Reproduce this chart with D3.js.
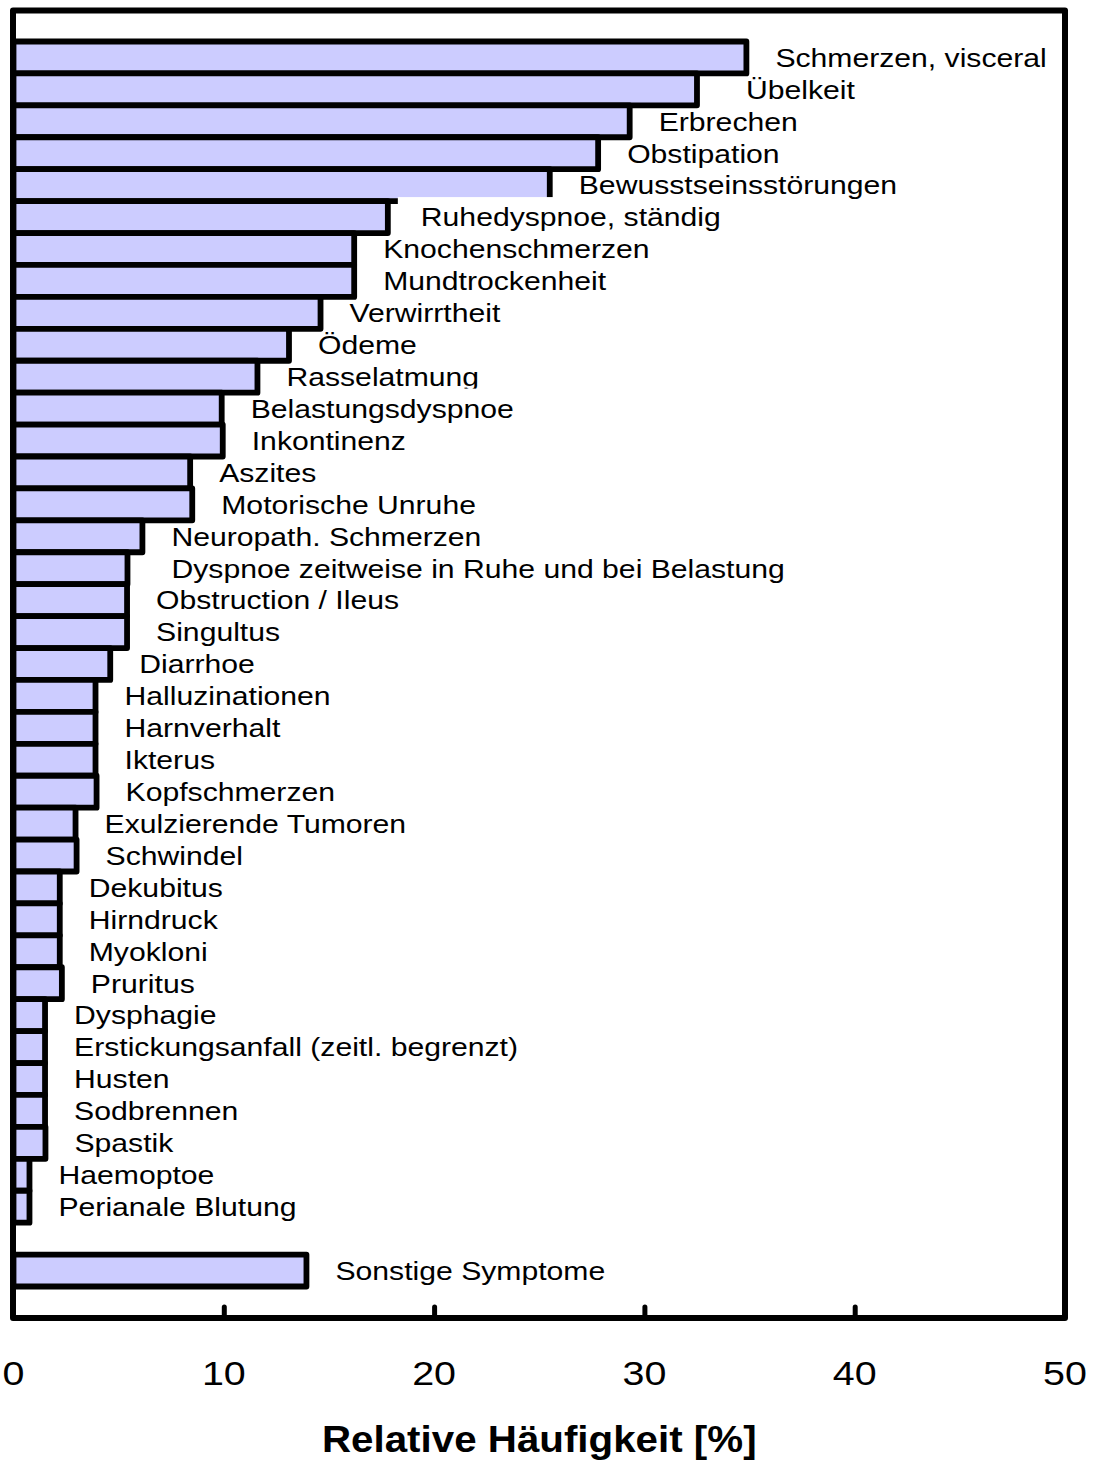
<!DOCTYPE html>
<html>
<head>
<meta charset="utf-8">
<script src="https://cdn.jsdelivr.net/npm/d3@7"></script>
<style>
  html, body { margin: 0; padding: 0; background: #fff; }
  svg { display: block; }
  text { font-family: "Liberation Sans", Arial, sans-serif; fill: #000; }
</style>
</head>
<body>
<svg id="chart" width="1094" height="1460"></svg>
<script>
// ---- data ----
const symptoms = [
  "Schmerzen, visceral", "Übelkeit", "Erbrechen", "Obstipation", "Bewusstseinsstörungen",
  "Ruhedyspnoe, ständig", "Knochenschmerzen", "Mundtrockenheit", "Verwirrtheit", "Ödeme",
  "Rasselatmung", "Belastungsdyspnoe", "Inkontinenz", "Aszites", "Motorische Unruhe",
  "Neuropath. Schmerzen", "Dyspnoe zeitweise in Ruhe und bei Belastung", "Obstruction / Ileus",
  "Singultus", "Diarrhoe", "Halluzinationen", "Harnverhalt", "Ikterus", "Kopfschmerzen",
  "Exulzierende Tumoren", "Schwindel", "Dekubitus", "Hirndruck", "Myokloni", "Pruritus",
  "Dysphagie", "Erstickungsanfall (zeitl. begrenzt)", "Husten", "Sodbrennen", "Spastik",
  "Haemoptoe", "Perianale Blutung"
];
const frequency = [
  34.85, 32.5, 29.3, 27.8, 25.5,
  17.8, 16.2, 16.2, 14.6, 13.1,
  11.6, 9.9, 9.95, 8.4, 8.5,
  6.13, 5.42, 5.4, 5.4, 4.6,
  3.9, 3.9, 3.9, 3.95,
  2.95, 3.0, 2.2, 2.2, 2.2, 2.3,
  1.5, 1.5, 1.5, 1.5, 1.52,
  0.76, 0.76
];
const otherLabel = "Sonstige Symptome";
const otherValue = 13.93;
const xTicks = [0, 10, 20, 30, 40, 50];
const xTitle = "Relative Häufigkeit [%]";

// ---- layout tweaks (not data) ----
const labelShift = { "Übelkeit": 20, "Dyspnoe zeitweise in Ruhe und bei Belastung": 15, "Ruhedyspnoe, ständig": 4 };
const boxExtend = { "Ruhedyspnoe, ständig": 23 };
const boxRaise = { "Ruhedyspnoe, ständig": 7, "Belastungsdyspnoe": 7 };

const rows = symptoms.map((s, i) => ({ key: s, label: s, value: frequency[i] }));
rows.push({ key: "__gap__", label: null, value: null });
rows.push({ key: otherLabel, label: otherLabel, value: otherValue });

const svg = d3.select("#chart");
const plotL = 13.5, plotR = 1065, plotT = 10.5, plotB = 1318;

const x = d3.scaleLinear().domain([0, 50]).range([plotL, plotR]);
const y = d3.scaleBand().domain(rows.map(r => r.key)).range([41.5, 1286.5]).padding(0);

const SX = 1.16;      // horizontal stretch of the reference's lettering
const LABEL_FS = 26;

// bars
const barRows = rows.filter(r => r.value !== null);
svg.append("g").selectAll("rect").data(barRows).join("rect")
  .attr("x", x(0))
  .attr("y", d => y(d.key))
  .attr("width", d => x(d.value) - x(0))
  .attr("height", y.bandwidth())
  .attr("fill", "#ccccff")
  .attr("stroke", "#000")
  .attr("stroke-width", 5.8)
  .attr("stroke-linejoin", "round");

// labels with white backgrounds, drawn top to bottom
const lg = svg.append("g");
barRows.forEach((d) => {
  const idx = rows.indexOf(d);
  const prev = idx > 0 ? rows[idx - 1] : null;
  const cy = y(d.key) + y.bandwidth() / 2;
  const tx = x(d.value) + 29 + (labelShift[d.label] || 0);
  const g = lg.append("g");
  const box = g.append("rect").attr("fill", "#fff");
  const t = g.append("text")
    .attr("transform", `translate(${tx},${cy + 9.3}) scale(${SX},1)`)
    .attr("font-size", LABEL_FS)
    .text(d.label);
  const w = t.node().getComputedTextLength() * SX;
  let bl = tx - 2;
  if (boxExtend[d.label]) {
    bl = tx - boxExtend[d.label];
  } else if (prev && prev.value !== null) {
    bl = Math.max(bl, x(prev.value) + 4);
  }
  const br = tx + w + 2;
  const bt = cy - 13 - (boxRaise[d.label] || 0);
  box.attr("x", bl).attr("y", bt).attr("width", Math.max(0, br - bl)).attr("height", cy + 16 - bt);
});

// frame
svg.append("rect")
  .attr("x", 13).attr("y", plotT)
  .attr("width", plotR - 13).attr("height", plotB - plotT)
  .attr("fill", "none").attr("stroke", "#000")
  .attr("stroke-width", 6).attr("stroke-linejoin", "round");

// x axis ticks (inward) and labels
const axis = d3.axisBottom(x).tickValues(xTicks).tickSize(0).tickFormat(d3.format("d"));
const ag = svg.append("g").attr("transform", `translate(0,${plotB})`).call(axis);
ag.select(".domain").remove();
ag.selectAll(".tick text").remove();
ag.selectAll(".tick").filter(d => d > 0 && d < 50).append("line")
  .attr("y1", 0).attr("y2", -11)
  .attr("stroke", "#000").attr("stroke-width", 5).attr("stroke-linecap", "round");

svg.append("g").selectAll("text").data(xTicks).join("text")
  .attr("transform", d => `translate(${x(d)},1385) scale(${SX},1)`)
  .attr("text-anchor", "middle")
  .attr("font-size", 34)
  .text(d => d3.format("d")(d));

// axis title
svg.append("text")
  .attr("transform", `translate(${(plotL + plotR) / 2},1452) scale(1.09,1)`)
  .attr("text-anchor", "middle")
  .attr("font-size", 37)
  .attr("font-weight", "bold")
  .text(xTitle);
</script>
</body>
</html>
